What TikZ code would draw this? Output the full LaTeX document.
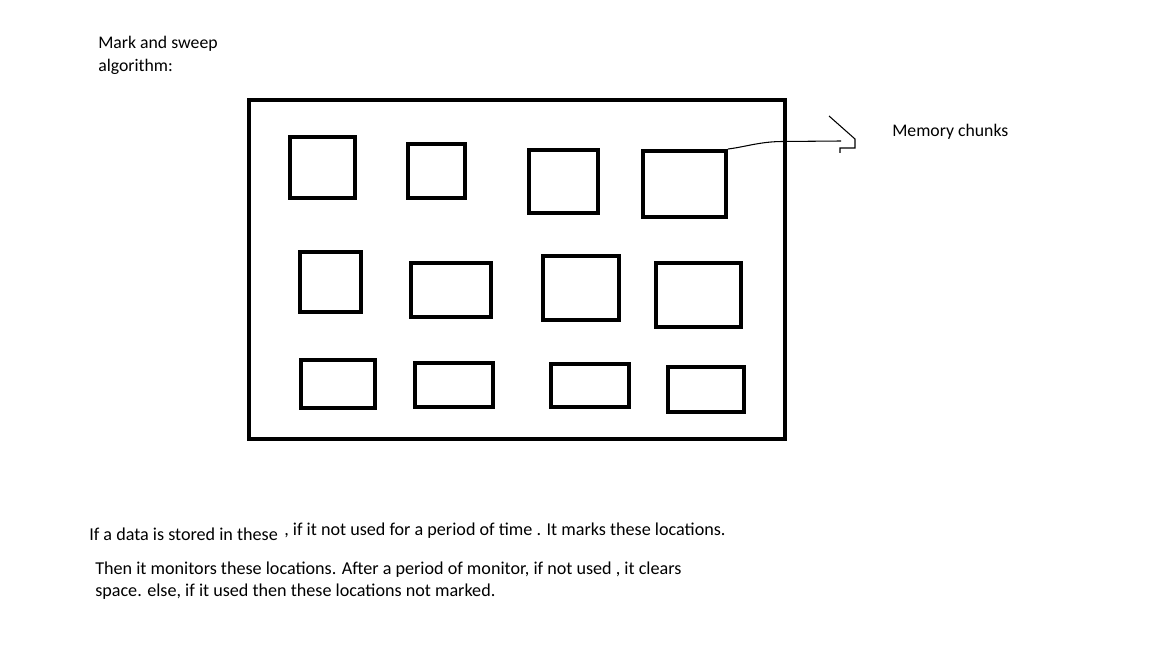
\documentclass[tikz,border=0pt]{standalone}
\usepackage{fontspec}
\setmainfont{Carlito}
\begin{document}
\begin{tikzpicture}[x=0.75pt,y=-0.75pt,
  chunk/.style={draw,line width=3pt,inner sep=0pt},
  lbl/.style={anchor=west,inner sep=0pt,font=\fontsize{13.3}{16}\selectfont},
  body/.style={anchor=west,inner sep=0pt,font=\fontsize{13.6}{16}\selectfont}]
\useasboundingbox[fill=white] (0,0) rectangle (1152,648);
\draw[line width=3pt] (249,100) rectangle (785,439);
% row 1
\node[chunk,minimum width=49pt,minimum height=45.75pt] (c11) at (322.5,167.5) {};
\node[chunk,minimum width=42.75pt,minimum height=40.5pt] (c12) at (436.5,171) {};
\node[chunk,minimum width=51.75pt,minimum height=47.25pt] (c13) at (563.5,181.5) {};
\node[chunk,minimum width=62.25pt,minimum height=49.5pt] (c14) at (684.5,184) {};
% row 2
\node[chunk,minimum width=45.75pt,minimum height=45pt] (c21) at (330.5,282) {};
\node[chunk,minimum width=60pt,minimum height=40.5pt] (c22) at (451,290) {};
\node[chunk,minimum width=57pt,minimum height=48pt] (c23) at (581,288) {};
\node[chunk,minimum width=63.75pt,minimum height=48pt] (c24) at (698.5,295) {};
% row 3
\node[chunk,minimum width=55.5pt,minimum height=36pt] (c31) at (338,384) {};
\node[chunk,minimum width=58.5pt,minimum height=33pt] (c32) at (454,385) {};
\node[chunk,minimum width=58.5pt,minimum height=32.25pt] (c33) at (590,385.5) {};
\node[chunk,minimum width=57pt,minimum height=33.75pt] (c34) at (706,389.5) {};
% arrow
\coordinate (a1) at (783,141.5);
\coordinate (a2) at (841,141);
\draw[line width=0.8pt] (c14.north east) .. controls (745,147) and (760,141.5) .. (a1) -- (a2);
\draw[line width=0.8pt] (829,116) -- (855,139) -- (855,148) -- (840,148) -- (840,153);
% texts
\node[lbl] (t1) at (98,44) {Mark and sweep};
\node[lbl] (t2) at (98,67) {algorithm:};
\node[lbl] (mc) at (892,132) {Memory chunks};
\node[body] (p1) at (89,534) {If a data is stored in these};
\node[body] (p2) at (284,531) {, if it not used for a period of time . It marks these locations.};
\node[body] (p3) at (95,570) {Then it monitors these locations. After a period of monitor, if not used , it clears};
\node[body] (p4) at (95,592) {space. else, if it used then these locations not marked.};
\end{tikzpicture}
\end{document}
